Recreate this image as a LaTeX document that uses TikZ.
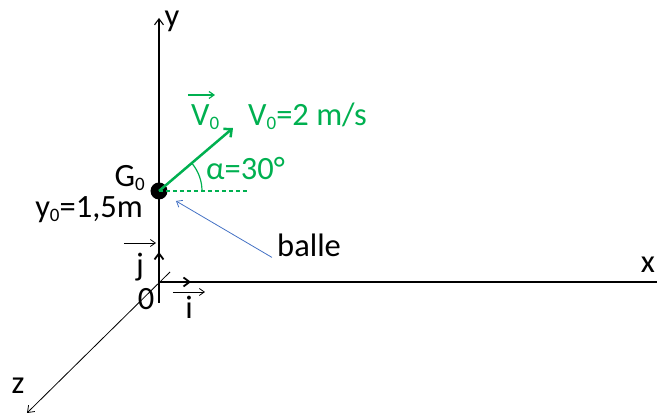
\documentclass[tikz,border=0pt]{standalone}
\usepackage{fontspec}
\setmainfont{Carlito}
\usetikzlibrary{arrows.meta,positioning}
\definecolor{vgreen}{RGB}{0,176,80}
\definecolor{lblue}{RGB}{68,114,196}
\newcommand\lowix[1]{\raisebox{-0.12em}{\fontsize{19}{19}\selectfont #1}}

\begin{document}
\begin{tikzpicture}[x=1pt,y=1pt,
  axis/.style={line width=1.1pt,-{Straight Barb[length=6pt,width=9pt]}},
  unitvec/.style={line width=1.8pt,-{Straight Barb[length=6pt,width=9pt]}},
  vbar/.style={line width=0.8pt,-{Straight Barb[length=5pt,width=7pt]}},
  lbl/.style={inner sep=0pt,font=\fontsize{32.5}{36}\selectfont},
  grn/.style={vgreen}
]
\useasboundingbox (-159,-132) rectangle (498,282);
% axes
\coordinate (O) at (0,0);
\coordinate (ytop) at (0,264);
\coordinate (ybot) at (0,-21);
\coordinate (xend) at (498,0);
\coordinate (zbeg) at (11,10);
\coordinate (zend) at (-132,-131);
\draw[line width=1.1pt] (ybot) -- (O) -- (xend);
\draw[axis] (O) -- (ytop);
\draw[axis,line width=0.8pt] (zbeg) -- (zend);
\node[lbl] (ylab) at (13,261) {y};
\node[lbl] (xlab) at (489,17) {x};
\node[lbl] (zlab) at (-141,-104) {z};
% unit vectors
\coordinate (itip) at (32,0);
\coordinate (jtip) at (0,30);
\foreach \t in {itip,jtip}{
  \draw[unitvec] (O) -- (\t);
}
\node[lbl,anchor=base] (olab) at (-13,-28) {0};
\node[lbl,anchor=base] (ilab) at (30,-37) {i};
\node[lbl,anchor=base] (jlab) at (-19,6) {j};
\draw[vbar] ([xshift=-16pt,yshift=27pt]ilab.base) -- ([xshift=16pt,yshift=27pt]ilab.base);
\draw[vbar] ([xshift=-16pt,yshift=33pt]jlab.base) -- ([xshift=16pt,yshift=33pt]jlab.base);
% ball and initial speed
\node[circle,fill=black,minimum size=17pt,inner sep=0pt] (G) at (0,91) {};
\node[lbl,anchor=base east] (glab) at (-14,95) {G\lowix{0}};
\node[lbl,anchor=base east] (y0lab) at (-16,64) {y\lowix{0}=1,5m};
\coordinate (Vtip) at (74,154);
\coordinate (hend) at (88,91);
\draw[grn,dashed,dash pattern=on 4.5pt off 2.5pt,line width=1.2pt] (G.center) -- (hend);
\draw[grn,line width=2.5pt,-{Straight Barb[length=6pt,width=11pt]}] (G.center) -- (Vtip);
\draw[grn,line width=1.2pt] ([xshift=43pt]G.center) arc[start angle=0,end angle=40,radius=43pt];
\node[lbl,grn,anchor=base west] (alab) at (47,102) {α=30°};
\node[lbl,grn,anchor=base west] (vlab) at (32,156) {V\lowix{0}};
\draw[vbar,grn,line width=1.2pt] ([xshift=-3pt,yshift=31pt]vlab.base west) -- ([xshift=24pt,yshift=31pt]vlab.base west);
\node[lbl,grn,anchor=base west] (vval) at (89,156) {V\lowix{0}=2 m/s};
% ball label
\node[lbl,anchor=base west] (balle) at (118,25) {balle};
\draw[lblue,line width=0.8pt,-{Straight Barb[length=5pt,width=8pt]},shorten >=11pt] ([xshift=-5pt]balle.south west) -- (G);
\end{tikzpicture}
\end{document}
